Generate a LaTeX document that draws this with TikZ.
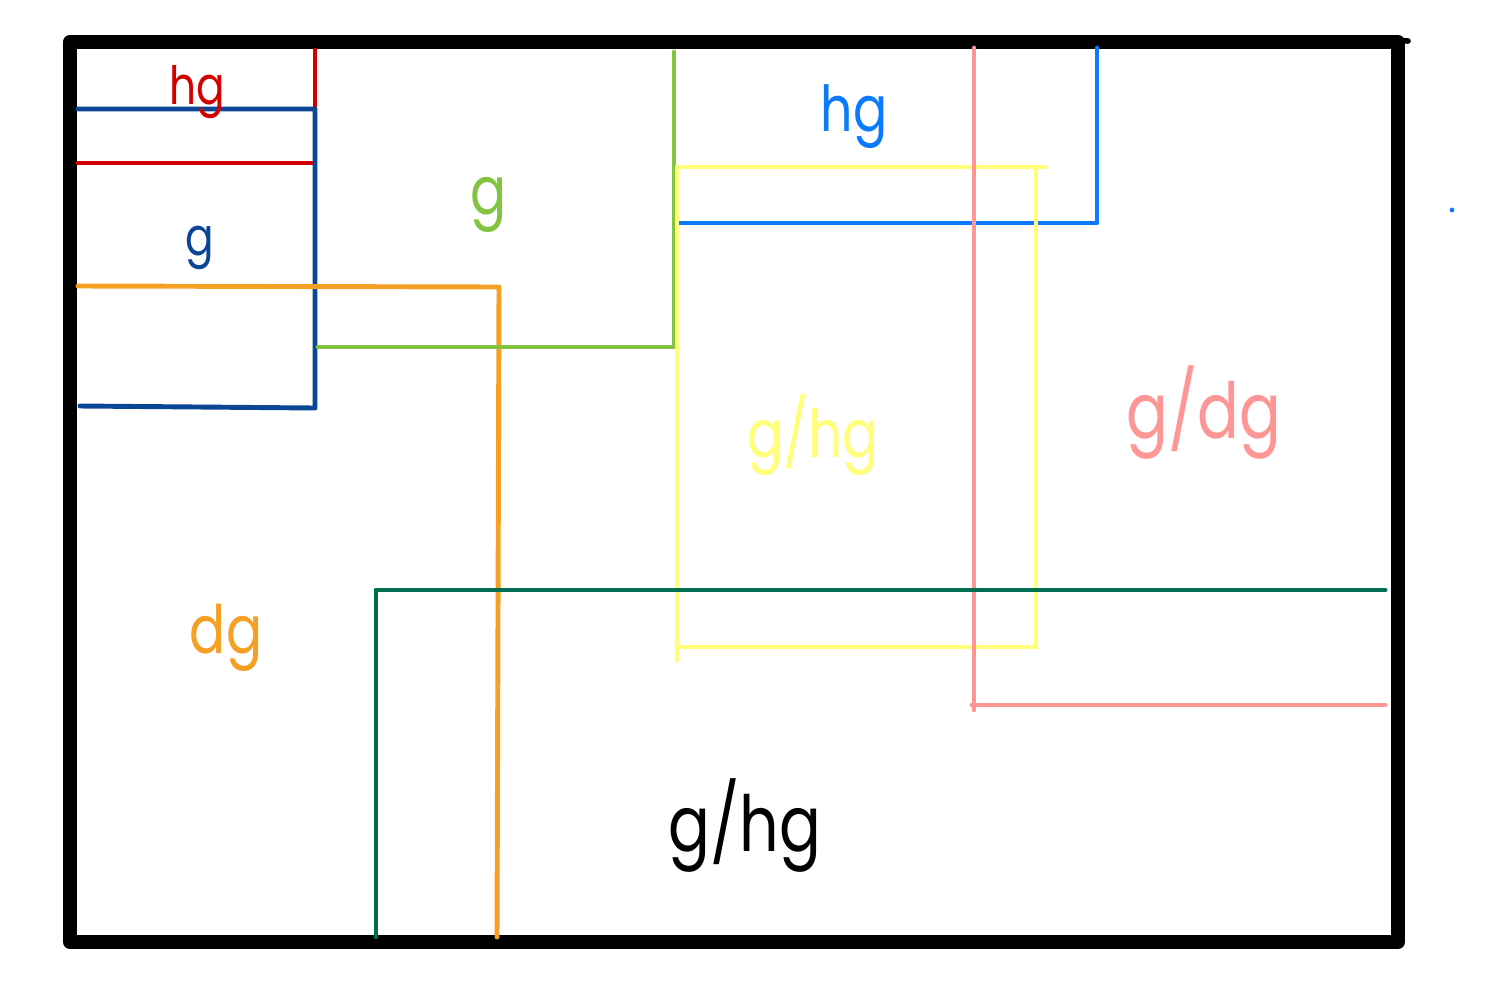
\documentclass[tikz,border=0pt]{standalone}
\usepackage{fontspec}
\setmainfont{Poppins}[FakeStretch=0.8]
\usepackage{tikz}
\usetikzlibrary{positioning}
\definecolor{cred}{RGB}{212,0,0}
\definecolor{cnavy}{RGB}{10,70,148}
\definecolor{corange}{RGB}{245,160,37}
\definecolor{cgreen}{RGB}{130,195,65}
\definecolor{cblue}{RGB}{10,122,255}
\definecolor{cyellow}{RGB}{255,255,122}
\definecolor{cpink}{RGB}{255,150,150}
\definecolor{cdark}{RGB}{0,110,80}

\begin{document}
\begin{tikzpicture}[x=0.01cm,y=-0.01cm]
\tikzstyle{ln}=[line width=1.4pt,line cap=round,line join=round]
\tikzstyle{lbl}=[inner sep=0pt]
\useasboundingbox (0,0) rectangle (1498,1000);
% frame
\draw[line width=4pt,line join=round,line cap=round] (70,42) rectangle (1398,942);
\draw[line width=1.6pt,line cap=round] (1392,40) -- (1408,41);
\fill[cblue] (1452,210) circle (2.4);
% regions
\draw[ln,cred] (315,50) -- (315,163) -- (78,163);
\draw[ln,cnavy] (78,109) -- (315,109) -- (315,408) -- (80,406);
\draw[ln,corange] (78,286) -- (499,287) -- (497,937);
\draw[ln,cgreen] (674,52) -- (674,347) -- (318,347);
\draw[ln,cblue] (1097,48) -- (1097,223) -- (678,223);
\draw[ln,cyellow] (677,660) -- (677,167) -- (1045,167);
\draw[ln,cyellow] (1036,167) -- (1036,647) -- (677,647);
\draw[ln,cpink] (974,48) -- (974,710);
\draw[ln,cpink] (972,705) -- (1385,705);
\draw[ln,cdark] (376,937) -- (376,590) -- (1385,590);
% labels
\node[lbl,cred,font=\fontsize{15}{15}\selectfont] (hgred) at (197,92) {hg};
\node[lbl,cnavy,font=\fontsize{15}{15}\selectfont] (gnavy) at (200,248) {g};
\node[lbl,cgreen,font=\fontsize{19}{19}\selectfont] (ggreen) at (489,205) {g};
\node[lbl,cblue,font=\fontsize{18}{18}\selectfont] (hgblue) at (854,117) {hg};
\node[lbl,cyellow,font=\fontsize{19}{19}\selectfont] (ghgyel) at (813,435) {g/hg};
\node[lbl,cpink,font=\fontsize{22}{22}\selectfont] (gdgpink) at (1204,412) {g/dg};
\node[lbl,corange,font=\fontsize{19}{19}\selectfont] (dgor) at (226,638) {dg};
\node[lbl,font=\fontsize{22}{22}\selectfont] (ghgblk) at (745,825) {g/hg};
\end{tikzpicture}
\end{document}
